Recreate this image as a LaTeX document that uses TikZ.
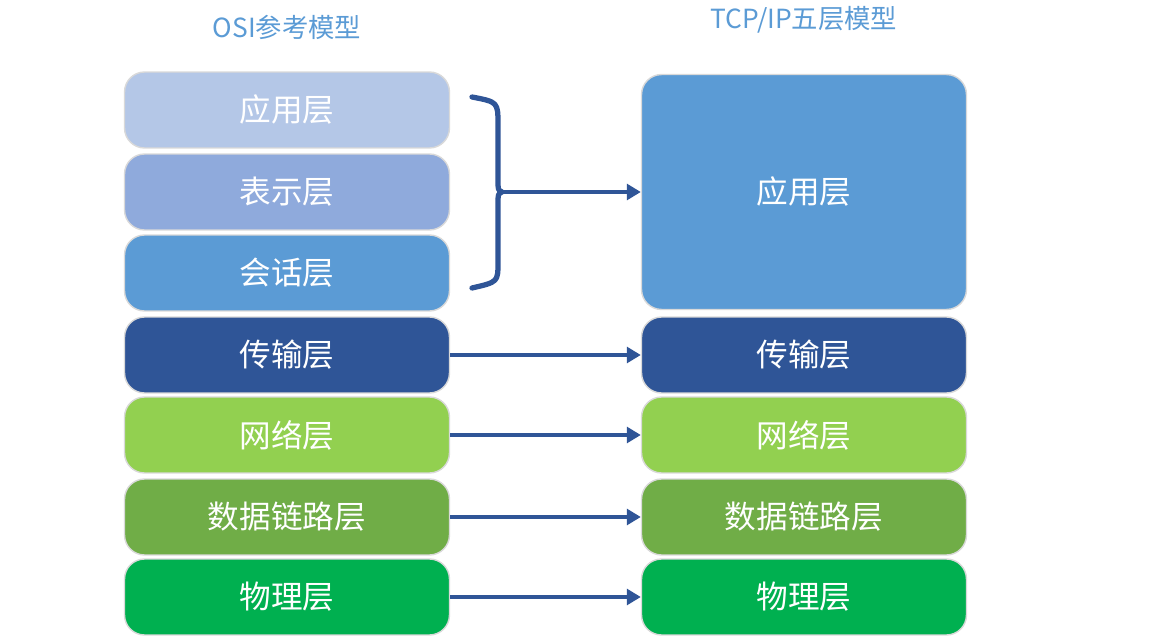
\documentclass[tikz,border=0pt]{standalone}
\usepackage{fontspec}
\setmainfont{Noto Sans CJK SC}
\usetikzlibrary{arrows.meta}

\definecolor{appc}{HTML}{B4C7E7}
\definecolor{prsc}{HTML}{8FAADC}
\definecolor{sesc}{HTML}{5B9BD5}
\definecolor{trnc}{HTML}{2F5597}
\definecolor{netc}{HTML}{92D050}
\definecolor{lnkc}{HTML}{70AD47}
\definecolor{phyc}{HTML}{00B050}
\definecolor{ttlc}{HTML}{5B9BD5}

\begin{document}
\begin{tikzpicture}[x=0.02cm,y=-0.02cm]

\tikzset{
  lay/.style={draw=gray!30,line width=0.8pt,rounded corners=0.4cm,text=white,
    minimum width=6.5cm,minimum height=1.52cm,font=\fontsize{18}{20}\selectfont},
  ttl/.style={text=ttlc,font=\fontsize{15}{18}\selectfont},
  arr/.style={trnc,line width=2.2pt,-{Triangle[length=8pt,width=9pt]}}
}

\useasboundingbox (0,0) rectangle (1170,638);

\node[ttl] (lt) at (287,27) {OSI参考模型};
\node[ttl] (rt) at (804,20) {TCP/IP五层模型};

% OSI
\node[lay,fill=appc] (la) at (287,110) {应用层};
\node[lay,fill=prsc] (lp) at (287,192) {表示层};
\node[lay,fill=sesc] (ls) at (287,273) {会话层};
\node[lay,fill=trnc] (lt4) at (287,355) {传输层};
\node[lay,fill=netc] (ln) at (287,435) {网络层};
\node[lay,fill=lnkc] (ll) at (287,517) {数据链路层};
\node[lay,fill=phyc] (lh) at (287,597) {物理层};

% TCP/IP
\node[lay,fill=sesc,minimum height=4.7cm] (ra) at (804,192) {应用层};
\node[lay,fill=trnc] (rt4) at (804,355) {传输层};
\node[lay,fill=netc] (rn) at (804,435) {网络层};
\node[lay,fill=lnkc] (rl) at (804,517) {数据链路层};
\node[lay,fill=phyc] (rh) at (804,597) {物理层};

% brace
\coordinate (bm) at (502,192);
\draw[trnc,line width=3pt,line cap=round,line join=round]
  (472,97) .. controls (498,102) .. (498,125) -- (498,180)
  .. controls (498,190) .. (bm)
  .. controls (498,194) .. (498,204) -- (498,262)
  .. controls (498,282) .. (472,288);

\draw[arr] (bm) -- (ra.west);
\draw[arr] (lt4) -- (rt4);
\draw[arr] (ln) -- (rn);
\draw[arr] (ll) -- (rl);
\draw[arr] (lh) -- (rh);

\end{tikzpicture}
\end{document}
